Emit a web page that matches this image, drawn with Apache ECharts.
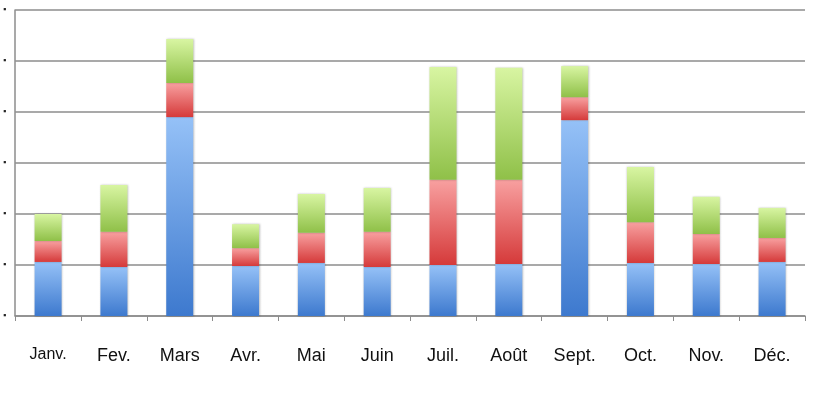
<!DOCTYPE html>
<html>
<head>
<meta charset="utf-8">
<script src="https://cdn.jsdelivr.net/npm/echarts@6/dist/echarts.min.js"></script>
<style>
html,body{margin:0;padding:0;background:#fff;}
#c{width:817px;height:394px;}
</style>
</head>
<body>
<div id="c"></div>
<script>
const categories = ['Janv.', 'Fev.', 'Mars', 'Avr.', 'Mai', 'Juin', 'Juil.', 'Août', 'Sept.', 'Oct.', 'Nov.', 'Déc.'];
const blueValues  = [10.6, 9.6, 39.0, 9.8, 10.4, 9.6, 10.0, 10.2, 38.4, 10.4, 10.2, 10.6];
const redValues   = [4.1, 6.9, 6.7, 3.5, 5.9, 6.9, 16.7, 16.5, 4.5, 8.0, 5.9, 4.7];
const greenValues = [5.3, 9.2, 8.6, 4.7, 7.6, 8.6, 22.1, 22.0, 6.1, 10.8, 7.3, 5.9];
const yTicks = [0, 10, 20, 30, 40, 50, 60];

function grad(top, bottom) {
  return new echarts.graphic.LinearGradient(0, 0, 0, 1, [
    { offset: 0, color: top },
    { offset: 1, color: bottom }
  ]);
}
const shadow = { shadowBlur: 2, shadowColor: 'rgba(0,0,0,0.25)', shadowOffsetX: 0.5, shadowOffsetY: 0 };

const chart = echarts.init(document.getElementById('c'), null, { renderer: 'canvas' });
chart.setOption({
  animation: false,
  backgroundColor: '#fff',
  grid: { left: 13, right: 12, top: 10, bottom: 78, containLabel: false },
  xAxis: {
    type: 'category',
    data: categories,
    axisLine: { show: true, lineStyle: { color: '#8c8c8c', width: 1.5 } },
    axisTick: { show: true, interval: 0, length: 5, lineStyle: { color: '#8c8c8c', width: 1 } },
    axisLabel: {
      interval: 0,
      hideOverlap: false,
      margin: 31,
      fontFamily: 'Liberation Sans, Arial, sans-serif',
      fontSize: 18,
      color: '#111',
      formatter: function (v) { return v === 'Janv.' ? '{s|' + v + '}' : v; },
      rich: { s: { fontSize: 16, color: '#111', fontFamily: 'Liberation Sans, Arial, sans-serif', padding: [0, 0, 3, 0] } }
    }
  },
  yAxis: {
    type: 'value',
    min: yTicks[0],
    max: yTicks[yTicks.length - 1],
    interval: 10,
    axisLine: { show: true, lineStyle: { color: '#8c8c8c', width: 1.5 } },
    axisTick: { show: false },
    splitLine: { show: true, lineStyle: { color: '#8c8c8c', width: 1.5 } },
    axisLabel: {
      margin: 9,
      fontSize: 9,
      color: '#222',
      formatter: function () { return '▪'; }
    }
  },
  series: [
    {
      name: 'blue', type: 'bar', stack: 's', barWidth: 27, data: blueValues,
      itemStyle: Object.assign({ color: grad('#95c1f7', '#3d79ce') }, shadow)
    },
    {
      name: 'red', type: 'bar', stack: 's', barWidth: 27, data: redValues,
      itemStyle: Object.assign({ color: grad('#f8a0a0', '#d53a3a') }, shadow)
    },
    {
      name: 'green', type: 'bar', stack: 's', barWidth: 27, data: greenValues,
      itemStyle: Object.assign({ color: grad('#d8f5a2', '#8fc048') }, shadow)
    }
  ]
});
</script>
</body>
</html>
